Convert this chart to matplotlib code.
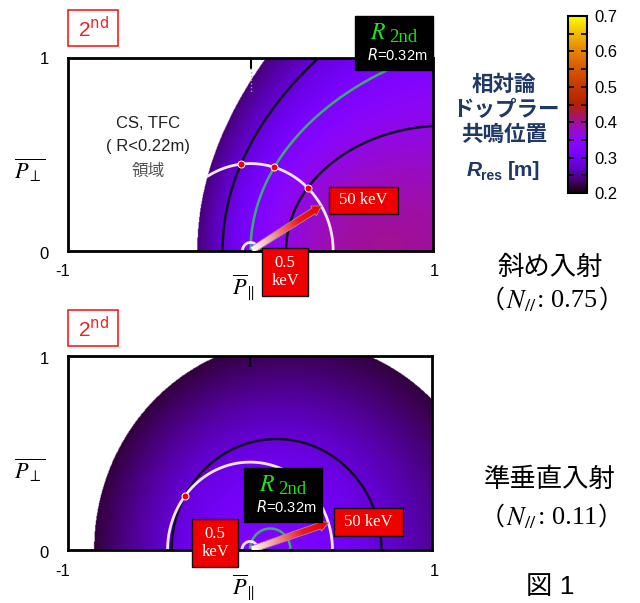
import numpy as np
import matplotlib.pyplot as plt
from matplotlib.patches import FancyArrow, Rectangle
from matplotlib.colors import LinearSegmentedColormap

plt.rcParams['font.family'] = ['Liberation Sans', 'Noto Sans CJK JP']
plt.rcParams['mathtext.fontset'] = 'stix'

# ---- data ----
R_2nd = 0.32                      # cold 2nd harmonic resonance [m]
n_par = [0.75, 0.11]              # 斜め入射, 準垂直入射
mask_R = [0.24, 0.22]             # white region (CS, TFC)
black_levels = [[0.28, 0.36], [0.28]]
dot_levels = [[0.28, 0.32, 0.36], [0.28]]
energies = [0.5, 50]              # keV
arrow_deg = [31, 18]
cbar_ticks = [0.2, 0.3, 0.4, 0.5, 0.6, 0.7]
side_titles = ['斜め入射', '準垂直入射']
side_npar = ['0.75', '0.11']

W, H = 640, 603
fig = plt.figure(figsize=(6.4, 6.03), dpi=100)


def fx(x):
    return x / W


def fy(y):
    return 1 - y / H


def rect(x0, y0, x1, y1, fc, ec, lw=1.0):
    fig.add_artist(Rectangle((fx(x0), fy(y1)), fx(x1) - fx(x0), fy(y0) - fy(y1),
                             transform=fig.transFigure, fc=fc, ec=ec, lw=lw, zorder=5))


def ftext(x, y, s, **kw):
    kw.setdefault('ha', 'center')
    kw.setdefault('va', 'center')
    return fig.text(fx(x), fy(y), s, zorder=6, **kw)


def chain(xc, y, pieces):
    # put text pieces side by side, centred on xc
    rend = fig.canvas.get_renderer()
    objs = []
    widths = []
    for s, kw in pieces:
        t = ftext(0, y, s, ha='left', **kw)
        widths.append(t.get_window_extent(rend).width + 1)
        objs.append(t)
    x = xc - sum(widths) / 2
    for t, w in zip(objs, widths):
        t.set_x(fx(x))
        x += w


cmap = plt.get_cmap('gnuplot').copy()
cmap.set_bad('white')
arrow_cmap = LinearSegmentedColormap.from_list('ar', ['#ffffff', '#f29090', '#ec1a1a', '#e80000'])

pp = np.linspace(-1, 1, 601)
pq = np.linspace(0, 1, 301)
P, Q = np.meshgrid(pp, pq)
gam = np.sqrt(1 + P**2 + Q**2)

p_E = [np.sqrt((1 + e / 511.0)**2 - 1) for e in energies]
g_E = 1 + energies[1] / 511.0

axes_px = [(68, 58, 433, 251), (68, 356, 432, 550)]
dy_panel = [0, 300]

for i in range(2):
    x0, y0, x1, y1 = axes_px[i]
    ax = fig.add_axes([fx(x0), fy(y1), fx(x1) - fx(x0), fy(y0) - fy(y1)])
    N = n_par[i]
    R = R_2nd * (1 + N * P) / gam
    Rm = np.ma.masked_where(R < mask_R[i], R)
    im = ax.imshow(Rm, origin='lower', extent=[-1, 1, 0, 1], aspect='auto',
                   cmap=cmap, vmin=0.2, vmax=0.7, interpolation='bilinear')
    ax.contour(P, Q, R, levels=black_levels[i], colors='#111122', linewidths=1.8)
    ax.contour(P, Q, R, levels=[R_2nd], colors='#3daa6e', linewidths=1.8)

    th = np.linspace(0, np.pi, 400)
    for p in p_E:
        cx, cy = p * np.cos(th), p * np.sin(th)
        rc = R_2nd * (1 + N * cx) / np.sqrt(1 + p**2)
        cy = np.where(rc < mask_R[i], np.nan, cy)
        ax.plot(cx, cy, color='#f3e6ff', lw=2)

    # dots where 50 keV circle crosses contours
    for L in dot_levels[i]:
        a = (L / R_2nd * g_E - 1) / N
        b = np.sqrt(p_E[1]**2 - a**2)
        ax.plot(a, b, 'o', color='#ee0000', ms=5, mec='white', mew=0.7, zorder=8)

    # gradient arrow 0.5 keV -> 50 keV
    t = np.deg2rad(arrow_deg[i])
    ux, uy = np.cos(t), np.sin(t)
    sx, sy = p_E[0] * ux * 0.2, p_E[0] * uy * 0.2
    L = p_E[1] - p_E[0] * 0.2
    arr = FancyArrow(sx, sy, L * ux, L * uy, width=0.034, head_width=0.06,
                     head_length=0.05, length_includes_head=True,
                     fc='none', ec='#a09090', lw=0.6, zorder=7)
    ax.add_patch(arr)
    proj = ((P - sx) * ux + (Q - sy) * uy) / L
    g = ax.imshow(np.clip(proj, 0, 1), origin='lower', extent=[-1, 1, 0, 1],
                  aspect='auto', cmap=arrow_cmap, vmin=0, vmax=1, zorder=6)
    g.set_clip_path(arr)

    ax.plot([0, 0], [1, 0.95], color='k', lw=1.5)
    if i == 0:
        ax.plot([0, 0], [0.95, 0.82], color='#aaaaaa', lw=1, ls=':')

    ax.set_xlim(-1, 1)
    ax.set_ylim(0, 1)
    ax.set_xticks([])
    ax.set_yticks([])
    for s in ax.spines.values():
        s.set_linewidth(2)

    d = dy_panel[i]
    ftext(44, 59 + d, '1', fontsize=12)
    ftext(44, 254 + d, '0', fontsize=12)
    ftext(63, 271 + d, '-1', fontsize=12)
    ftext(434, 271 + d, '1', fontsize=12)
    ftext(30, 170 + d, r'$\overline{P_{\perp}}$', fontsize=16)
    ftext(243, 288 + d, r'$\overline{P}_{\!\parallel}$', fontsize=16)

    # 2nd label
    rect(68, 10 + d, 118, 46 + d, 'white', '#ee2222', 1.2)
    ftext(93, 29 + d, r'2$^{\mathrm{nd}}$', fontsize=15, color='#ee2222',
          math_fontfamily='dejavusans')

    # side caption
    ty = 268 + 212 * i
    ny = 301 + 217 * i
    ftext(550, ty, side_titles[i], fontsize=19)
    cjk = dict(fontsize=18, family='Noto Sans CJK JP')
    ser = dict(fontsize=19, family='Liberation Serif')
    chain(552, ny, [('（', cjk), (r'$N_{//}$', dict(fontsize=19)),
                    (': ' + side_npar[i], ser), ('）', cjk)])

# energy label boxes
for (bx0, by0, bx1, by1) in [(329, 187, 398, 214), (334, 508, 403, 536)]:
    rect(bx0, by0, bx1, by1, '#ee0000', '#111111', 1.0)
    ftext((bx0 + bx1) / 2, (by0 + by1) / 2, '50 keV', fontsize=12, color='white',
          family='Liberation Serif')
for (bx0, by0, bx1, by1) in [(262, 248, 308, 296), (192, 519, 238, 567)]:
    rect(bx0, by0, bx1, by1, '#ee0000', '#111111', 1.0)
    ftext((bx0 + bx1) / 2, (by0 + by1) / 2, '0.5\nkeV', fontsize=12, color='white',
          family='Liberation Serif', linespacing=1.1)

# R 2nd boxes
for (ox, oy) in [(0, 0), (-111, 452)]:
    rect(355 + ox, 16 + oy, 433 + ox, 70 + oy, 'black', 'black', 1.0)
    ftext(378 + ox, 33 + oy, r'$R$', fontsize=17, color='#22dd22')
    ftext(403 + ox, 38 + oy, '2nd', fontsize=13.5, color='#22dd22', family='Liberation Serif')
    ftext(397 + ox, 55 + oy, r'$\it{R}$=0.32m', fontsize=10.5, color='white',
          math_fontfamily='dejavusans')

# CS, TFC text
ftext(148, 123, 'CS, TFC', fontsize=12, color='#222222')
ftext(148, 147, '( R<0.22m)', fontsize=12, color='#222222')
ftext(148, 171, '領域', fontsize=12, color='#555555')

# colorbar
cax = fig.add_axes([fx(568), fy(193), fx(587) - fx(568), fy(16) - fy(193)])
cb = fig.colorbar(im, cax=cax, ticks=cbar_ticks)
cb.outline.set_linewidth(1.5)
cax.set_yticks(np.arange(0.2, 0.71, 0.05), minor=True)
cax.tick_params(which='both', direction='in', left=True, right=True,
                length=4, width=1.2, labelsize=12, pad=5)

navy = '#1f3864'
ftext(504, 85, '相対論', fontsize=15.5, color=navy, weight='bold')
ftext(506, 110, 'ドップラー', fontsize=15.5, color=navy, weight='bold')
ftext(504, 135, '共鳴位置', fontsize=15.5, color=navy, weight='bold')
ftext(474, 171, 'R', fontsize=15, color=navy, weight='bold', style='italic')
ftext(491, 176, 'res', fontsize=10, color=navy, weight='bold')
ftext(524, 171, '[m]', fontsize=15, color=navy, weight='bold')

ftext(550, 587, '図 1', fontsize=19)

fig.savefig('out.png', dpi=100)
